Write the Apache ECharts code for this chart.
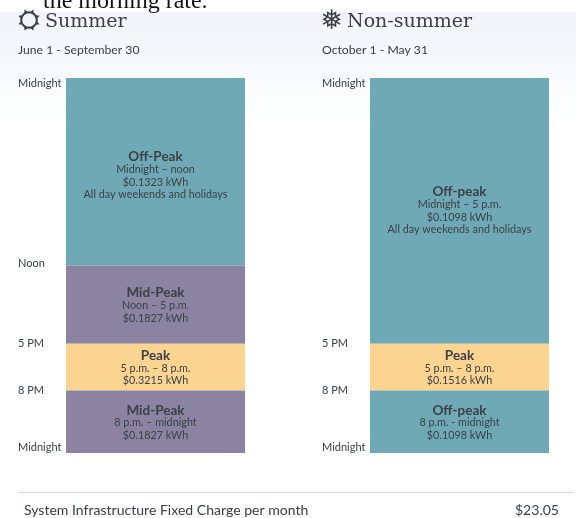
<!DOCTYPE html>
<html><head><meta charset="utf-8">
<style>html,body{margin:0;padding:0;background:#fff}#c{width:576px;height:518px}</style>
<script src="https://cdn.jsdelivr.net/npm/echarts@6/dist/echarts.min.js"></script></head>
<body><div id="c"></div>
<script>
const summerTickValues = [0, 12, 17, 20, 24];
const summerTickLabels = ['Midnight', 'Noon', '5 PM', '8 PM', 'Midnight'];
const winterTickValues = [0, 17, 20, 24];
const winterTickLabels = ['Midnight', '5 PM', '8 PM', 'Midnight'];
const summerHours = [12, 5, 3, 4];
const summerNames = ['Off-Peak', 'Mid-Peak', 'Peak', 'Mid-Peak'];
const summerSpans = ['Midnight – noon', 'Noon – 5 p.m.', '5 p.m. – 8 p.m.', '8 p.m. – midnight'];
const summerRates = ['$0.1323 kWh', '$0.1827 kWh', '$0.3215 kWh', '$0.1827 kWh'];
const summerNotes = ['All day weekends and holidays', '', '', ''];
const summerKinds = ['off', 'mid', 'peak', 'mid'];
const winterHours = [17, 3, 4];
const winterNames = ['Off-peak', 'Peak', 'Off-peak'];
const winterSpans = ['Midnight – 5 p.m.', '5 p.m. – 8 p.m.', '8 p.m. - midnight'];
const winterRates = ['$0.1098 kWh', '$0.1516 kWh', '$0.1098 kWh'];
const winterNotes = ['All day weekends and holidays', '', ''];
const winterKinds = ['off', 'peak', 'off'];
const colors = {off: '#70a9b6', mid: '#8b83a1', peak: '#fcd492'};
const ink = '#3b4046';
const FONT = 'Lato, "Open Sans", sans-serif';

function makeSeries(gridIndex, hours, names, spans, rates, notes, kinds) {
  return hours.map((h, i) => {
    const lines = ['{t|' + names[i] + '}', '{s|' + spans[i] + '}', '{s|' + rates[i] + '}'];
    if (notes[i]) lines.push('{s|' + notes[i] + '}');
    const dy = notes[i] ? (gridIndex === 0 ? 4 : 0) : 1;
    return {
      type: 'bar', stack: 'day' + gridIndex, xAxisIndex: gridIndex, yAxisIndex: gridIndex,
      barWidth: '100%', data: [h], silent: true,
      itemStyle: {color: colors[kinds[i]]},
      label: {
        show: true, position: 'inside', offset: [0, dy], formatter: lines.join('\n'),
        rich: {
          t: {fontFamily: FONT, fontSize: 13.5, fontWeight: 700, color: ink, lineHeight: 13, align: 'center'},
          s: {fontFamily: FONT, fontSize: 10.8, color: ink, lineHeight: 12.6, align: 'center'}
        }
      }
    };
  });
}
function axisY(gridIndex, values, labels) {
  return {
    type: 'value', gridIndex, min: 0, max: 24, inverse: true,
    axisLine: {show: false}, axisTick: {show: false}, splitLine: {show: false},
    axisLabel: {
      show: true, customValues: values, align: 'left', margin: 48,
      fontFamily: FONT, fontSize: 11, color: ink,
      verticalAlignMinLabel: 'top', verticalAlignMaxLabel: 'bottom',
      formatter: v => {
        const t = labels[values.indexOf(v)];
        return t === 'Noon' ? '{up|' + t + '}' : t;
      },
      rich: {up: {fontFamily: FONT, fontSize: 11, color: ink, padding: [0, 0, 4, 0]}}
    }
  };
}
function axisX(gridIndex) {
  return {type: 'category', gridIndex, data: ['day'], show: false};
}
function sunTeeth(cx, cy, r) {
  const out = [];
  for (let i = 0; i < 8; i++) {
    const a = Math.PI / 8 + i * Math.PI / 4, w = 0.22;
    const p = (rad, ang) => [cx + rad * Math.cos(ang), cy + rad * Math.sin(ang)];
    out.push({type: 'polygon', shape: {points: [p(r, a - w), p(r + 3, a), p(r, a + w)]}, style: {fill: ink}});
  }
  return out;
}
const chart = echarts.init(document.getElementById('c'), null, {renderer: 'canvas'});
chart.setOption({
  animation: false,
  grid: [
    {left: 66, top: 78, width: 179, height: 375, containLabel: false},
    {left: 370, top: 78, width: 179, height: 375, containLabel: false}
  ],
  xAxis: [axisX(0), axisX(1)],
  yAxis: [axisY(0, summerTickValues, summerTickLabels), axisY(1, winterTickValues, winterTickLabels)],
  series: makeSeries(0, summerHours, summerNames, summerSpans, summerRates, summerNotes, summerKinds)
    .concat(makeSeries(1, winterHours, winterNames, winterSpans, winterRates, winterNotes, winterKinds)),
  graphic: [
    {type: 'rect', z: -10, silent: true, shape: {x: 0, y: 12, width: 576, height: 110},
      style: {fill: new echarts.graphic.LinearGradient(0, 0, 0, 1, [
        {offset: 0, color: '#f2f3fa'}, {offset: .5, color: '#f6fafc'}, {offset: 1, color: '#ffffff'}])}},
    {type: 'text', z: 5, x: 43, y: -10, style: {text: 'the morning rate.', font: '24px "Liberation Serif", serif', fill: '#111'}},
    {type: 'circle', shape: {cx: 29, cy: 20, r: 7.8}, style: {fill: 'none', stroke: ink, lineWidth: 2}},
    ...sunTeeth(29, 20, 8.4),
    {type: 'text', x: 45, y: 13, style: {text: 'Summer', font: '19px "DejaVu Serif", serif', fill: ink}},
    {type: 'text', x: 320.5, y: 8, style: {text: '❅', font: '27px "DejaVu Sans", sans-serif', fill: ink}},
    {type: 'text', x: 347, y: 13, style: {text: 'Non-summer', font: '19px "DejaVu Serif", serif', fill: ink}},
    {type: 'text', x: 18, y: 44, style: {text: 'June 1 - September 30', font: '12.2px Lato, sans-serif', fill: ink}},
    {type: 'text', x: 322, y: 44, style: {text: 'October 1 - May 31', font: '12.2px Lato, sans-serif', fill: ink}},
    {type: 'line', shape: {x1: 18, y1: 492.5, x2: 574, y2: 492.5}, style: {stroke: '#dcdcdc', lineWidth: 1}},
    {type: 'text', x: 24, y: 503, style: {text: 'System Infrastructure Fixed Charge per month', font: '14.05px Lato, sans-serif', fill: ink}},
    {type: 'text', x: 559, y: 503, style: {text: '$23.05', font: '14.05px Lato, sans-serif', fill: ink, align: 'right'}}
  ]
});
</script></body></html>
